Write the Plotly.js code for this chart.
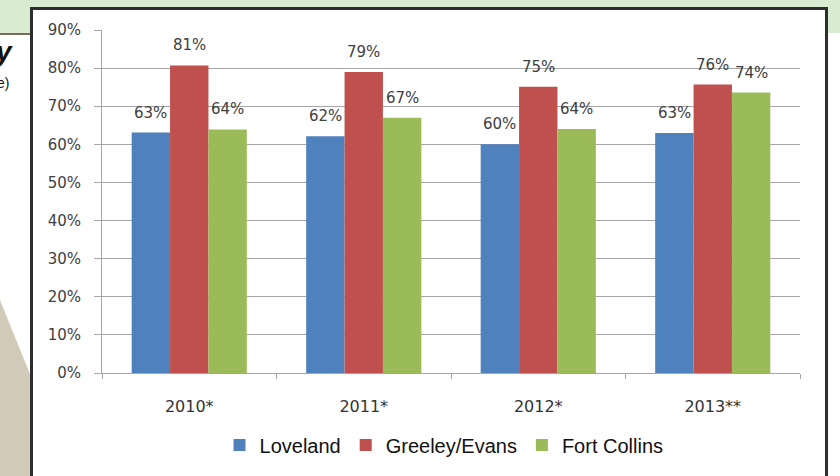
<!DOCTYPE html>
<html>
<head>
<meta charset="utf-8">
<script src="https://cdn.plot.ly/plotly-3.0.1.min.js"></script>
<style>
  html, body { margin: 0; padding: 0; background: #ffffff; }
  #wrap { position: relative; width: 840px; height: 476px; overflow: hidden; background: #ffffff; }
  #band { position: absolute; left: 0; top: 0; width: 840px; height: 33px; background: #d9ecd2; }
  #rule { position: absolute; left: 0; top: 33px; width: 32px; height: 2px; background: #7c6a58; }
  #tri { position: absolute; left: 0; top: 300px; width: 32px; height: 176px; background: #d1cab8;
         clip-path: polygon(0 0, 100% 45%, 100% 100%, 0 100%); }
  #ty { position: absolute; left: -4px; top: 36px; font: italic bold 28px "Liberation Sans", Arial, sans-serif; color: #111; }
  #te { position: absolute; left: -3px; top: 75px; font: 14px "Liberation Sans", Arial, sans-serif; color: #111; }
  #frame { position: absolute; left: 30px; top: 7px; width: 792px; height: 480px; border: 3px solid #2e2e2e; background: #ffffff; }
  #chart { position: absolute; left: 0; top: 0; width: 840px; height: 476px; }
</style>
</head>
<body>
<div id="wrap">
  <div id="band"></div>
  <div id="rule"></div>
  <div id="tri"></div>
  <div id="ty">y</div>
  <div id="te">e)</div>
  <div id="frame"></div>
  <div id="chart"></div>
</div>
<script>
const categories = ["2010*", "2011*", "2012*", "2013**"];
const loveland = [63.1, 62.1, 60.0, 63.0];
const greeleyEvans = [80.7, 79.0, 75.1, 75.7];
const fortCollins = [63.9, 67.0, 64.0, 73.6];
const seriesNames = ["Loveland", "Greeley/Evans", "Fort Collins"];
const seriesColors = ["#4f81bd", "#c0504d", "#9bbb59"];
const seriesValues = [loveland, greeleyEvans, fortCollins];

const bargap = 0.34;
const traces = seriesValues.map((vals, i) => ({
  type: "bar",
  name: seriesNames[i],
  x: categories,
  y: vals,
  marker: { color: seriesColors[i], line: { width: 0 } },
  hoverinfo: "skip"
}));

// value labels placed above each bar, using category-axis positions
const barWidth = (1 - bargap) / seriesValues.length;
const annotations = [];
seriesValues.forEach((vals, i) => {
  vals.forEach((v, c) => {
    annotations.push({
      xref: "x", yref: "y",
      x: c + (i - (seriesValues.length - 1) / 2) * barWidth,
      y: v,
      text: Math.round(v) + "%",
      showarrow: false,
      yanchor: "middle",
      yshift: 20,
      font: { family: "DejaVu Sans, Verdana, sans-serif", size: 15, color: "#404040" }
    });
  });
});

const layout = {
  width: 840, height: 476,
  margin: { l: 102, r: 40, t: 30, b: 101 },
  paper_bgcolor: "rgba(0,0,0,0)",
  plot_bgcolor: "rgba(0,0,0,0)",
  barmode: "group",
  bargap: bargap,
  bargroupgap: 0,
  showlegend: true,
  legend: {
    orientation: "h",
    x: 0.49, xanchor: "center",
    y: -0.21, yanchor: "middle",
    font: { family: "Liberation Sans, Arial, sans-serif", size: 20, color: "#111111" },
    itemwidth: 30,
    traceorder: "normal",
    bgcolor: "rgba(0,0,0,0)"
  },
  xaxis: {
    type: "category",
    automargin: false,
    showline: true, linecolor: "#a6a6a6", linewidth: 1,
    ticks: "outside", ticklen: 5, tickcolor: "#a6a6a6",
    tickson: "boundaries",
    ticklabelstandoff: 19,
    tickfont: { family: "DejaVu Sans, Verdana, sans-serif", size: 16, color: "#333333" },
    showgrid: false, zeroline: false,
    fixedrange: true
  },
  yaxis: {
    range: [0, 90],
    dtick: 10,
    ticksuffix: "%",
    automargin: false,
    showline: true, linecolor: "#a6a6a6", linewidth: 1,
    ticks: "outside", ticklen: 7, tickcolor: "#a6a6a6",
    ticklabelstandoff: 10,
    tickfont: { family: "DejaVu Sans, Verdana, sans-serif", size: 15, color: "#404040" },
    showgrid: true, gridcolor: "#a6a6a6", gridwidth: 1,
    zeroline: false,
    fixedrange: true
  },
  annotations: annotations
};

Plotly.newPlot("chart", traces, layout, { displayModeBar: false, staticPlot: true });
</script>
</body>
</html>
